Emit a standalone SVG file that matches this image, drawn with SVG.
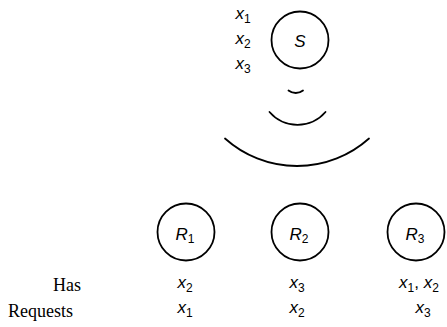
<svg xmlns="http://www.w3.org/2000/svg" width="447" height="327" viewBox="0 0 447 327">
<style>
.node circle{fill:none;stroke:#000;stroke-width:1.8}
.wave{fill:none;stroke:#000;stroke-width:1.8;stroke-linecap:round}
.m{font-family:"Liberation Sans","DejaVu Sans",sans-serif;font-size:17px;font-style:italic;fill:#000}
.sub{font-style:normal;font-size:12px}
.t{font-family:"Liberation Serif","DejaVu Serif",serif;font-size:18px;fill:#000}
</style>
<rect width="447" height="327" fill="#fff"/>
<g id="S" class="node">
<circle cx="300" cy="40" r="28.5"/>
<text class="m" x="300" y="46.5" text-anchor="middle">S</text>
</g>
<g id="S-items">
<text class="m" x="243" y="19" text-anchor="middle">x<tspan class="sub" dy="4">1</tspan></text>
<text class="m" x="243" y="44" text-anchor="middle">x<tspan class="sub" dy="4">2</tspan></text>
<text class="m" x="243" y="69" text-anchor="middle">x<tspan class="sub" dy="4">3</tspan></text>
</g>
<g id="connectors">
<path class="wave" d="M288.5 90.5 A11.8 11.8 0 0 0 303 90.5"/>
<path class="wave" d="M269.5 112 A37 37 0 0 0 325.5 112"/>
<path class="wave" d="M225 138.5 A108 108 0 0 0 369 138.5"/>
</g>
<g id="R1" class="node">
<circle cx="186" cy="232" r="28.5"/>
<text class="m" x="185" y="239.5" text-anchor="middle">R<tspan class="sub" dy="3">1</tspan></text>
</g>
<g id="R2" class="node">
<circle cx="300" cy="232" r="28.5"/>
<text class="m" x="299" y="239.5" text-anchor="middle">R<tspan class="sub" dy="3">2</tspan></text>
</g>
<g id="R3" class="node">
<circle cx="416" cy="232" r="28.5"/>
<text class="m" x="415" y="239.5" text-anchor="middle">R<tspan class="sub" dy="3">3</tspan></text>
</g>
<g id="table">
<text class="t" x="53" y="290.5">Has</text>
<text class="t" x="8" y="316.5">Requests</text>
<text class="m" x="185" y="288" text-anchor="middle">x<tspan class="sub" dy="4">2</tspan></text>
<text class="m" x="297" y="288" text-anchor="middle">x<tspan class="sub" dy="4">3</tspan></text>
<text class="m" x="419" y="288" text-anchor="middle">x<tspan class="sub" dy="4">1</tspan><tspan dy="-4" font-style="normal">, </tspan>x<tspan class="sub" dy="4">2</tspan></text>
<text class="m" x="185" y="313" text-anchor="middle">x<tspan class="sub" dy="4">1</tspan></text>
<text class="m" x="297" y="313" text-anchor="middle">x<tspan class="sub" dy="4">2</tspan></text>
<text class="m" x="423" y="313" text-anchor="middle">x<tspan class="sub" dy="4">3</tspan></text>
</g>
</svg>
